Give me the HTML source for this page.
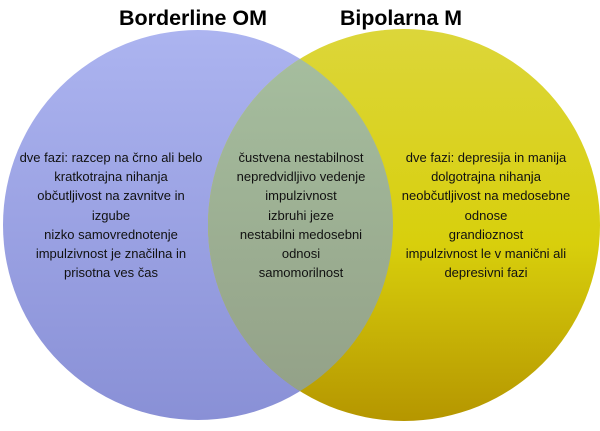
<!DOCTYPE html>
<html><head><meta charset="utf-8"><style>
html,body{margin:0;padding:0;background:#fff;}
svg{display:block;}
text{font-family:"Liberation Sans",sans-serif;}
</style></head><body>
<svg width="600" height="431" viewBox="0 0 600 431" xmlns="http://www.w3.org/2000/svg">
<defs>
<linearGradient id="gl" x1="0" y1="0" x2="0" y2="1"><stop offset="0" stop-color="#acb4f0"/><stop offset="1" stop-color="#8990d6"/></linearGradient>
<linearGradient id="gr" x1="0" y1="0" x2="0" y2="1"><stop offset="0" stop-color="#dcd63a"/><stop offset="0.55" stop-color="#d8cf0c"/><stop offset="1" stop-color="#b59600"/></linearGradient>
<linearGradient id="gm" x1="0" y1="0" x2="0" y2="1"><stop offset="0" stop-color="#a7c0a0"/><stop offset="1" stop-color="#929f86"/></linearGradient>
<clipPath id="cl"><circle cx="198" cy="225" r="195"/></clipPath>
</defs>
<circle cx="198" cy="225" r="195" fill="url(#gl)"/>
<circle cx="404" cy="225" r="196" fill="url(#gr)"/>
<circle cx="404" cy="225" r="196" fill="url(#gm)" clip-path="url(#cl)"/>
<text x="193" y="25" font-size="21" font-weight="bold" text-anchor="middle" textLength="148" lengthAdjust="spacingAndGlyphs">Borderline OM</text>
<text x="401" y="25" font-size="21" font-weight="bold" text-anchor="middle" textLength="122" lengthAdjust="spacingAndGlyphs">Bipolarna M</text>
<g font-size="13" text-anchor="middle" fill="#111">
<text x="111" y="162">dve fazi: razcep na črno ali belo</text>
<text x="111" y="181">kratkotrajna nihanja</text>
<text x="111" y="200">občutljivost na zavnitve in</text>
<text x="111" y="220">izgube</text>
<text x="111" y="239">nizko samovrednotenje</text>
<text x="111" y="258">impulzivnost je značilna in</text>
<text x="111" y="277">prisotna ves čas</text>
<text x="301" y="162">čustvena nestabilnost</text>
<text x="301" y="181">nepredvidljivo vedenje</text>
<text x="301" y="200">impulzivnost</text>
<text x="301" y="220">izbruhi jeze</text>
<text x="301" y="239">nestabilni medosebni</text>
<text x="301" y="258">odnosi</text>
<text x="301" y="277">samomorilnost</text>
<text x="486" y="162">dve fazi: depresija in manija</text>
<text x="486" y="181">dolgotrajna nihanja</text>
<text x="486" y="200">neobčutljivost na medosebne</text>
<text x="486" y="220">odnose</text>
<text x="486" y="239">grandioznost</text>
<text x="486" y="258">impulzivnost le v manični ali</text>
<text x="486" y="277">depresivni fazi</text>
</g>
</svg>
</body></html>
